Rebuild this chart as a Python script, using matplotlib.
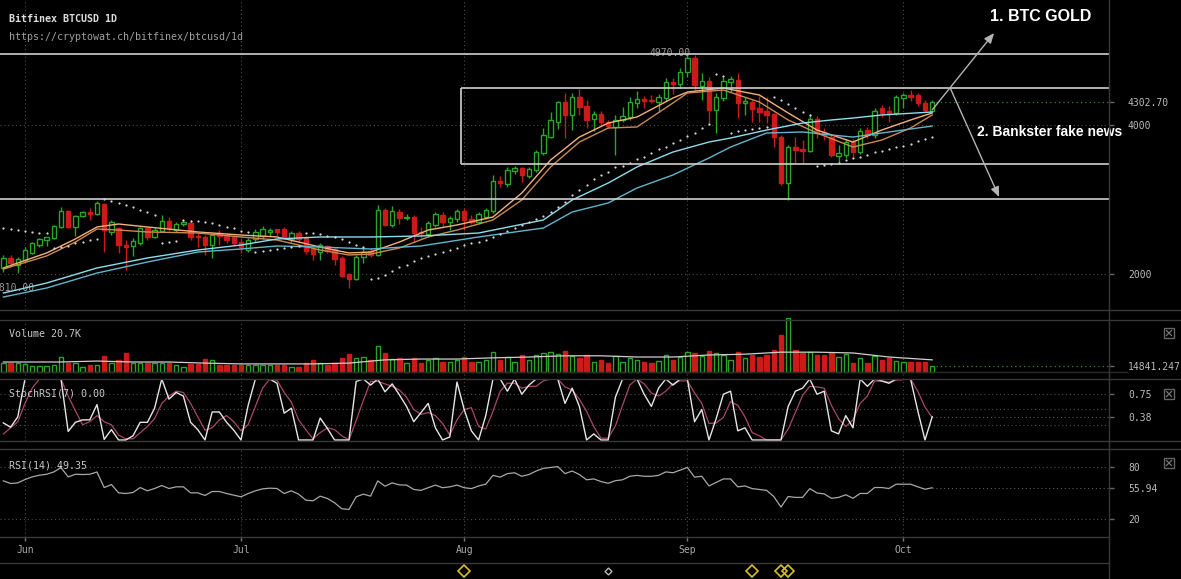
import matplotlib
matplotlib.use('Agg')
import matplotlib.pyplot as plt
import matplotlib.dates as mdates
from matplotlib.lines import Line2D
from matplotlib.patches import Rectangle
import numpy as np
import pandas as pd

plt.rcParams['font.family'] = ['DejaVu Sans Mono']

# ---- data: Bitfinex BTCUSD daily, 29 May - 5 Oct 2017 ----
dates = pd.date_range('2017-05-29', '2017-10-05', freq='D')

opens = [2080, 2215, 2121, 2188, 2282, 2389, 2460, 2483, 2631, 2845, 2631, 2778, 2832,
         2805, 2939, 2564, 2617, 2389, 2376, 2416, 2617, 2497, 2577,
         2712, 2591, 2671, 2684, 2510, 2497, 2389, 2550, 2523, 2497,
         2429, 2322, 2470, 2510, 2564, 2604, 2604, 2470, 2550, 2483,
         2335, 2295, 2376, 2335, 2215, 2000, 1933, 2228, 2309, 2255,
         2859, 2658, 2832, 2752, 2765, 2564, 2537, 2658, 2792, 2698,
         2738, 2845, 2738, 2698, 2765, 2845, 3248, 3208, 3382, 3423,
         3315, 3396, 3624, 3838, 4040, 4308, 4134, 4375, 4255, 4080,
         4147, 4040, 3973, 4067, 4107, 4295, 4348, 4335, 4308, 4362,
         4577, 4550, 4711, 4899, 4523, 4590, 4201, 4362, 4577, 4604,
         4295, 4308, 4228, 4187, 4147, 3838, 3221, 3704, 3677, 3651,
         4080, 3900, 3838, 3584, 3597, 3771, 3637, 3932, 3865, 4228,
         4187, 4161, 4362, 4402, 4402, 4295, 4187]
highs = [2255, 2255, 2228, 2362, 2429, 2483, 2500, 2658, 2899, 2860, 2792, 2845, 2885,
         2980, 2953, 2725, 2631, 2456, 2483, 2631, 2631, 2617, 2792,
         2765, 2698, 2725, 2725, 2550, 2523, 2550, 2591, 2550, 2523,
         2483, 2483, 2604, 2644, 2617, 2604, 2631, 2577, 2577, 2510,
         2362, 2416, 2389, 2349, 2242, 2013, 2255, 2349, 2349, 2926,
         2885, 2912, 2872, 2805, 2792, 2631, 2712, 2832, 2832, 2778,
         2872, 2885, 2792, 2832, 2885, 3329, 3315, 3436, 3450, 3436,
         3436, 3664, 3959, 4174, 4322, 4429, 4429, 4483, 4335, 4187,
         4187, 4067, 4134, 4241, 4375, 4456, 4389, 4402, 4416, 4630,
         4630, 4765, 4970, 4939, 4697, 4644, 4429, 4644, 4657, 4697,
         4375, 4335, 4389, 4375, 4161, 3865, 3731, 3838, 3798, 4147,
         4120, 3960, 3879, 3731, 3811, 3811, 3959, 3973, 4228, 4268,
         4255, 4402, 4429, 4469, 4429, 4335, 4335]
lows = [2027, 2107, 2013, 2161, 2268, 2362, 2380, 2470, 2617, 2617, 2510, 2765, 2725,
        2792, 2295, 2523, 2282, 2054, 2242, 2389, 2456, 2483, 2564,
        2577, 2564, 2644, 2456, 2362, 2255, 2215, 2389, 2416, 2376,
        2282, 2295, 2430, 2470, 2510, 2510, 2470, 2430, 2430, 2268,
        2188, 2188, 2282, 2121, 1960, 1810, 1920, 2148, 2228, 2242,
        2644, 2631, 2671, 2725, 2430, 2483, 2497, 2631, 2631, 2591,
        2698, 2591, 2671, 2671, 2740, 2819, 3167, 3167, 3342, 3235,
        3288, 3369, 3597, 3825, 3946, 3825, 3932, 4134, 3959, 3919,
        3986, 3959, 3597, 4040, 4067, 4228, 4228, 4295, 4174, 4322,
        4416, 4496, 4644, 4469, 4335, 4026, 3892, 4322, 4443, 4093,
        4134, 4040, 4040, 4026, 3704, 3194, 2993, 3490, 3476, 3637,
        3825, 3800, 3570, 3490, 3557, 3570, 3610, 3825, 3825, 4107,
        4040, 4134, 4228, 4322, 4255, 4174, 4174]
closes = [2215, 2148, 2201, 2322, 2416, 2470, 2490, 2644, 2845, 2631, 2778, 2832, 2805,
          2953, 2591, 2698, 2389, 2362, 2443, 2617, 2497, 2591, 2712,
          2617, 2671, 2698, 2497, 2497, 2389, 2523, 2510, 2456, 2416,
          2362, 2456, 2564, 2604, 2591, 2564, 2497, 2550, 2470, 2309,
          2268, 2389, 2309, 2201, 1973, 1933, 2228, 2295, 2255, 2859,
          2658, 2845, 2752, 2765, 2550, 2550, 2684, 2805, 2698, 2752,
          2845, 2725, 2698, 2805, 2859, 3248, 3221, 3396, 3423, 3329,
          3409, 3637, 3865, 4067, 4308, 4134, 4375, 4241, 4067, 4147,
          4040, 3986, 4067, 4120, 4308, 4348, 4322, 4322, 4375, 4577,
          4550, 4711, 4899, 4536, 4590, 4201, 4375, 4590, 4617, 4295,
          4322, 4214, 4174, 4134, 3838, 3221, 3704, 3664, 3651, 4080,
          3892, 3860, 3597, 3624, 3771, 3637, 3919, 3865, 4187, 4161,
          4161, 4375, 4402, 4375, 4295, 4201, 4302.70]

# volume in thousands of BTC
volumes = [22, 22, 22, 20, 15, 15, 15, 17, 37, 22, 22, 12, 17,
           17, 40, 22, 30, 47, 22, 22, 22, 22, 22,
           22, 17, 12, 20, 20, 32, 30, 17, 17, 17,
           17, 17, 17, 17, 17, 17, 17, 12, 12, 22,
           30, 22, 17, 22, 35, 44, 35, 37, 30, 64,
           47, 32, 35, 22, 35, 22, 30, 35, 25, 25,
           30, 37, 25, 25, 30, 49, 30, 37, 25, 42,
           30, 42, 47, 49, 44, 52, 40, 35, 42, 25,
           30, 22, 40, 25, 35, 30, 25, 22, 27, 42,
           30, 37, 49, 47, 40, 52, 47, 42, 30, 49,
           35, 42, 37, 42, 54, 91, 133, 54, 47, 49,
           42, 42, 47, 37, 44, 22, 35, 22, 40, 30,
           35, 27, 25, 25, 25, 25, 14.841247]
vol_ma_idx = [0, 8, 13, 18, 23, 28, 33, 38, 43, 48, 53, 58, 63, 68, 73, 78, 83, 88,
              93, 98, 103, 108, 113, 118, 123, 129]
vol_ma = [24.7, 24.7, 27, 24.7, 24.7, 22, 20, 20, 20, 22, 30, 32, 32, 35, 37, 40, 40, 37,
          37, 42, 44, 49, 49, 47, 37, 30]

stoch_k = [0.28, 0.21, 0.38, 1.0, 1.0, 1.0, 1.0, 1.0, 1.0, 0.14, 0.29, 0.33, 0.33,
           0.58, 0.01, 0.17, 0.0, 0.0, 0.07, 0.29, 0.29, 0.52, 1.0,
           0.67, 0.78, 0.72, 0.29, 0.17, 0.0, 0.46, 0.46, 0.29, 0.16,
           0.0, 0.57, 1.0, 1.0, 1.0, 0.93, 0.44, 0.52, 0.0, 0.0,
           0.0, 0.36, 0.19, 0.0, 0.0, 0.0, 0.96, 1.0, 0.9, 1.0,
           0.79, 0.92, 0.74, 0.55, 0.3, 0.45, 0.6, 0.2, 0.0, 0.05,
           0.95, 0.5, 0.15, 0.0, 0.4, 1.0, 1.0, 0.8, 1.0, 0.75,
           0.9, 1.0, 1.0, 1.0, 1.0, 0.6, 0.85, 0.55, 0.0, 0.1,
           0.0, 0.0, 0.7, 1.0, 1.0, 1.0, 0.75, 0.55, 0.85, 1.0,
           0.9, 1.0, 1.0, 0.3, 0.5, 0.0, 0.35, 0.75, 0.8, 0.15,
           0.2, 0.0, 0.0, 0.0, 0.0, 0.0, 0.55, 0.8, 0.85, 1.0,
           0.75, 0.8, 0.15, 0.1, 0.4, 0.2, 1.0, 0.88, 1.0, 0.97,
           0.93, 1.0, 1.0, 1.0, 0.48, 0.0, 0.38]
stoch_d = [0.1, 0.2, 0.3, 0.6, 0.85, 1.0, 1.0, 1.0, 1.0, 0.72, 0.48, 0.25, 0.3,
           0.4, 0.3, 0.25, 0.08, 0.02, 0.02, 0.12, 0.22, 0.35, 0.6,
           0.72, 0.8, 0.78, 0.6, 0.38, 0.16, 0.2, 0.33, 0.4, 0.3,
           0.15, 0.25, 0.55, 0.85, 1.0, 0.98, 0.78, 0.62, 0.33, 0.17,
           0.02, 0.12, 0.2, 0.17, 0.07, 0.0, 0.32, 0.65, 0.96, 0.96,
           0.92, 0.88, 0.82, 0.7, 0.5, 0.42, 0.45, 0.4, 0.27, 0.08,
           0.33, 0.5, 0.53, 0.22, 0.18, 0.47, 0.8, 0.93, 0.93, 0.85,
           0.88, 0.88, 0.97, 1.0, 1.0, 0.87, 0.82, 0.67, 0.47, 0.22,
           0.03, 0.03, 0.23, 0.57, 0.9, 1.0, 0.92, 0.77, 0.72, 0.8,
           0.92, 0.97, 0.97, 0.77, 0.6, 0.27, 0.28, 0.37, 0.63, 0.57,
           0.38, 0.12, 0.07, 0.0, 0.0, 0.0, 0.18, 0.45, 0.73, 0.88,
           0.87, 0.85, 0.57, 0.35, 0.22, 0.33, 0.6, 0.72, 0.97, 0.96,
           0.95, 0.98, 0.99, 1.0, 0.8, 0.54, 0.37]

rsi = [63.8, 60.8, 61.5, 65.3, 68.3, 70.2, 71.3, 73.9, 78.9, 68.3, 71.3, 71.0, 71.3,
       73.9, 56.2, 59.6, 50.2, 49.4, 50.6, 56.2, 52.5, 55.1, 58.5,
       55.1, 57.0, 57.0, 50.2, 50.2, 47.2, 51.7, 51.7, 49.4, 47.5,
       45.7, 49.4, 52.5, 54.7, 55.5, 55.1, 49.4, 52.5, 48.7, 41.9,
       41.1, 46.4, 43.8, 38.9, 32.1, 31.3, 45.7, 48.7, 46.4, 63.8,
       57.7, 61.5, 59.2, 59, 54, 53, 56, 59, 56, 57,
       59, 56, 55, 58, 60, 70, 68, 72, 73, 69,
       71, 75, 78, 79, 80, 72, 75, 71, 65, 66,
       63, 61, 64, 65, 69, 70, 69, 69, 70, 74,
       73, 76, 79, 68, 69, 58, 62, 66, 66, 57,
       58, 55, 54, 53, 46, 34, 46, 45, 45, 55,
       50, 49, 44, 45, 48, 44, 49.5, 49.5, 56.2, 56.2,
       55.1, 60, 60, 60, 57, 54.3, 55.94]

# parabolic SAR dots
sar = [2617, 2604, 2590, 2577, 2564, 2550, 2550,
       2349, 2362, 2376, 2416, 2429, 2456, 2470,
       3007, 2980, 2953, 2926, 2899, 2859, 2832, 2792,
       2416, 2429, 2443,
       2725, 2711, 2711, 2698, 2684, 2658, 2631, 2617, 2577, 2564,
       2295, 2309, 2322, 2336, 2349, 2362, 2376,
       2550, 2550, 2537, 2510, 2497, 2470, 2429, 2389, 2362,
       1933, 1946, 1987, 2040, 2094, 2121, 2174, 2215, 2242, 2268, 2295, 2322, 2349,
       2389, 2416, 2429,
       2456, 2497, 2537, 2577, 2617, 2658, 2698, 2738,
       2778, 2832, 2899, 2966, 3060, 3127, 3194, 3275, 3329, 3369, 3436, 3449, 3490,
       3543, 3570, 3624, 3677, 3704, 3758, 3798, 3852, 3892, 3959, 4013,
       4684, 4657,
       3892, 3919, 3932, 3946, 3959, 3973,
       4375, 4335, 4281, 4228, 4174, 4134,
       3449, 3463, 3476, 3490, 3530, 3557, 3570, 3597,
       3637, 3651, 3677, 3704, 3718, 3745, 3785, 3812, 3838]

# moving averages, sampled at these bar indices
orange_idx = [0, 6, 10, 13, 16, 20, 27, 33, 38, 44, 48, 51, 55, 59, 63, 68, 72, 76, 80,
              84, 88, 93, 95, 100, 105, 109, 113, 118, 122, 126, 129]
ma_orange_1 = [2081, 2282, 2470, 2631, 2671, 2631, 2564, 2523, 2497, 2362, 2282, 2295, 2429,
               2590, 2658, 2765, 3087, 3530, 3838, 4026, 4107, 4362, 4442, 4496, 4402, 4161,
               3932, 3771, 3932, 4067, 4161]
ma_orange_2 = [2067, 2242, 2429, 2604, 2590, 2564, 2550, 2497, 2456, 2322, 2255, 2268, 2349,
               2497, 2590, 2725, 2993, 3436, 3771, 3959, 3973, 4295, 4429, 4469, 4308, 4067,
               3892, 3704, 3798, 3959, 4134]
cyan_idx = [0, 6, 13, 20, 27, 33, 38, 44, 51, 58, 66, 75, 79, 84, 88, 93, 98, 101, 106,
            111, 115, 118, 122, 129]
ma_cyan_1 = [1745, 1879, 2081, 2215, 2322, 2389, 2470, 2497, 2497, 2510, 2550, 2725, 2993,
             3221, 3436, 3637, 3771, 3825, 3932, 4026, 4067, 4093, 4134, 4174]
ma_cyan_2 = [1691, 1812, 2013, 2161, 2295, 2336, 2376, 2362, 2336, 2376, 2497, 2617, 2832,
             2953, 3154, 3329, 3557, 3704, 3892, 3906, 3865, 3838, 3892, 3986]

# hand-drawn annotations (days after 1 Jun, price)
full_lines = [4953, 3002]
box_lines = [4492, 3476]
box_start_day = 60.5
arrow_gold = ((126.0, 4201), (134.6, 5234))
arrow_fake = ((128.5, 4497), (135.3, 3033))
text_gold = (141.1, 5456)
text_fake = (142.3, 3906)

# event markers under the time axis (days after 1 Jun)
events_big = [61, 101, 105, 106]
events_small = [81]

months = pd.to_datetime(['2017-06-01', '2017-07-01', '2017-08-01', '2017-09-01', '2017-10-01'])
month_labels = ['Jun', 'Jul', 'Aug', 'Sep', 'Oct']

# ---- styling ----
GREEN = '#2aa52a'
RED = '#cc1a1a'
GRID = '#4a4a4a'
SEP = '#383838'
W, H = 1181, 579

x = mdates.date2num(dates)
base = mdates.date2num(pd.Timestamp('2017-06-01'))
x_left, x_right = base - 3.47, base + 150.56

o = np.array(opens); h = np.array(highs); l = np.array(lows); c = np.array(closes)
up = c >= o

fig = plt.figure(figsize=(W / 100, H / 100), dpi=100, facecolor='black')


def panel(y0, y1, x1=1109):
    ax = fig.add_axes([0, 1 - y1 / H, x1 / W, (y1 - y0) / H])
    ax.set_facecolor('black')
    for s in ax.spines.values():
        s.set_visible(False)
    ax.set_xlim(x_left, x_right)
    ax.tick_params(axis='x', bottom=False, labelbottom=False)
    ax.yaxis.tick_right()
    ax.tick_params(axis='y', right=True, left=False, length=3.6, width=1, color='#666',
                   labelcolor='#bbbbbb', labelsize=7, pad=10)
    for m in mdates.date2num(months):
        ax.axvline(m, color=GRID, lw=0.8, ls=(0, (1, 2.5)), zorder=0)
    return ax


def fline(x0, x1, y0, y1, **kw):
    fig.add_artist(Line2D([x0 / W, x1 / W], [1 - y0 / H, 1 - y1 / H],
                          transform=fig.transFigure, **kw))


def ftext(px, py, s, **kw):
    fig.text(px / W, 1 - py / H, s, va='center', **kw)


dotted = (0, (1, 2.5))

# ---- main price panel ----
ax = panel(0, 310)
ax.set_ylim(1517, 5677)
for lvl in (2000, 4000):
    ax.axhline(lvl, color=GRID, lw=0.8, ls=dotted, zorder=0)
ax.hlines(closes[-1], x[-1] + 0.5, x_right, color='#2d8a2d', lw=0.9, ls=dotted)

ax.vlines(x, l, h, colors=np.where(up, GREEN, RED), lw=1, zorder=2)
body_lo = np.minimum(o, c)
body_h = np.maximum(np.abs(c - o), 12)
ax.bar(x[up], body_h[up], bottom=body_lo[up], width=0.6, facecolor='black',
       edgecolor=GREEN, lw=1, zorder=3)
ax.bar(x[~up], body_h[~up], bottom=body_lo[~up], width=0.6, facecolor=RED,
       edgecolor=RED, lw=1, zorder=3)

ax.plot(x[orange_idx], ma_orange_1, color='#f2b27a', lw=1, zorder=4)
ax.plot(x[orange_idx], ma_orange_2, color='#c98a52', lw=1, zorder=4)
ax.plot(x[cyan_idx], ma_cyan_1, color='#8fdcec', lw=1, zorder=4)
ax.plot(x[cyan_idx], ma_cyan_2, color='#63b4cc', lw=1, zorder=4)
ax.plot(x, sar, ls='none', marker='o', ms=1.6, mfc='#d8d8d8', mec='none', zorder=4)

ax.hlines(full_lines, x_left, x_right, color='#cfcfcf', lw=1.2, zorder=5)
ax.hlines(box_lines, base + box_start_day, x_right, color='#cfcfcf', lw=1.2, zorder=5)
ax.vlines(base + box_start_day, box_lines[1], box_lines[0], color='#cfcfcf', lw=1.2, zorder=5)

ax.set_yticks([2000, 4000, closes[-1]], ['2000', '4000', '%.2f' % closes[-1]])

i_hi = int(np.argmax(h))
ax.text(x[i_hi] + 0.5, h[i_hi], '%.2f' % h[i_hi], ha='right', va='center',
        color='#9a9a9a', fontsize=7)
i_lo = int(np.argmin(l))
ax.text(base + 1.4, l[i_lo], '%.2f' % l[i_lo], ha='right', va='center',
        color='#9a9a9a', fontsize=7, clip_on=True)

for (tail, head) in (arrow_gold, arrow_fake):
    ax.annotate('', xy=(base + head[0], head[1]), xytext=(base + tail[0], tail[1]),
                arrowprops=dict(arrowstyle='-|>,head_length=0.6,head_width=0.25',
                                color='#b4b4b4', lw=1, shrinkA=0, shrinkB=0), zorder=6)
ax.text(base + text_gold[0], text_gold[1], '1. BTC GOLD', ha='center', va='center',
        color='white', fontsize=11.5, fontweight='bold', family='Liberation Sans', zorder=7)
ax.text(base + text_fake[0], text_fake[1], '2. Bankster fake news', ha='center', va='center',
        color='white', fontsize=10, fontweight='bold', family='Liberation Sans', zorder=7)

# ---- volume panel ----
axv = panel(318, 379)
axv.set_ylim(-17.3, 133.4)
v = np.array(volumes)
axv.bar(x[up], v[up], width=0.62, facecolor='black', edgecolor=GREEN, lw=1)
axv.bar(x[~up], v[~up], width=0.62, facecolor=RED, edgecolor=RED, lw=1)
axv.plot(x[vol_ma_idx], vol_ma, color='#cfcfcf', lw=0.9)
axv.hlines(volumes[-1], x[-1] + 0.5, x_right, color='#2d8a2d', lw=0.9, ls=dotted)
axv.set_yticks([volumes[-1]], ['%.3f' % (volumes[-1] * 1000)])

# ---- StochRSI panel ----
axs = panel(379, 441)
axs.set_ylim(-0.0164, 1.0)
for lvl in (0.25, 0.5, 0.75):
    axs.axhline(lvl, color=GRID, lw=0.8, ls=dotted, zorder=0)
axs.hlines(stoch_k[-1], x[-1], x_right, color='#5a5a5a', lw=0.8, ls=dotted)
axs.plot(x, stoch_d, color='#a8486a', lw=0.9)
axs.plot(x, stoch_k, color='#e6e6e6', lw=1)
axs.set_yticks([0.75, stoch_k[-1]], ['0.75', '%.2f' % stoch_k[-1]])

# ---- RSI panel ----
axr = panel(449, 537)
axr.set_ylim(0, 100)
for lvl in (80, 20):
    axr.axhline(lvl, color=GRID, lw=0.8, ls=dotted, zorder=0)
axr.hlines(rsi[-1], x[-1], x_right, color='#5a5a5a', lw=0.8, ls=dotted)
axr.plot(x, rsi, color='#a8a8a8', lw=0.9)
axr.set_yticks([80, rsi[-1], 20], ['80', '%.2f' % rsi[-1], '20'])

# ---- time axis and event strip ----
axt = panel(537, 563)
axt.set_yticks([])
axt.set_ylim(0, 1)
for s in axt.get_lines():
    s.remove()
for m, lab in zip(mdates.date2num(months), month_labels):
    axt.text(m, 0.5, lab, ha='center', va='center', color='#aaaaaa', fontsize=7)
    axt.vlines(m, 0.85, 1.0, color='#777', lw=1)
    axt.vlines(m, -0.15, 0.0, color='#777', lw=1, clip_on=False)

axe = panel(563, 579)
axe.set_yticks([])
axe.set_ylim(0, 1)
for s in axe.get_lines():
    s.remove()
axe.plot(base + np.array(events_big), [0.5] * len(events_big), ls='none', marker='D',
         ms=6.5, mfc='none', mec='#d9c21a', mew=1.2)
axe.plot(base + np.array(events_small), [0.5] * len(events_small), ls='none', marker='D',
         ms=3.5, mfc='none', mec='#bbbbbb', mew=1)

# ---- frame lines ----
for yy in (310, 320, 379, 441, 449):
    fline(0, W, yy, yy, color=SEP, lw=1)
fline(0, 1127, 371.5, 371.5, color='#2a2a2a', lw=1)
for yy in (537, 563):
    fline(0, 1109, yy, yy, color=SEP, lw=1)
fline(1109, 1109, 0, H, color=SEP, lw=1)

# close buttons
for cy in (333, 394, 463):
    fig.add_artist(Rectangle(((1164) / W, 1 - (cy + 5) / H), 10 / W, 10 / H,
                             transform=fig.transFigure, fill=False, ec='#666', lw=1))
    fline(1166.5, 1171.5, cy - 2.5, cy + 2.5, color='#777', lw=0.9)
    fline(1166.5, 1171.5, cy + 2.5, cy - 2.5, color='#777', lw=0.9)

# ---- header texts ----
ftext(9, 19, 'Bitfinex BTCUSD 1D', color='#dddddd', fontsize=7.2, fontweight='bold')
ftext(9, 37, 'https://cryptowat.ch/bitfinex/btcusd/1d', color='#a0a0a0', fontsize=7.2)
ftext(9, 334, 'Volume 20.7K', color='#c8c8c8', fontsize=7.2)
ftext(9, 393, 'StochRSI(7) 0.00', color='#c8c8c8', fontsize=7.2)
ftext(9, 465, 'RSI(14) 49.35', color='#c8c8c8', fontsize=7.2)

fig.savefig('out.png', dpi=100, facecolor='black')
